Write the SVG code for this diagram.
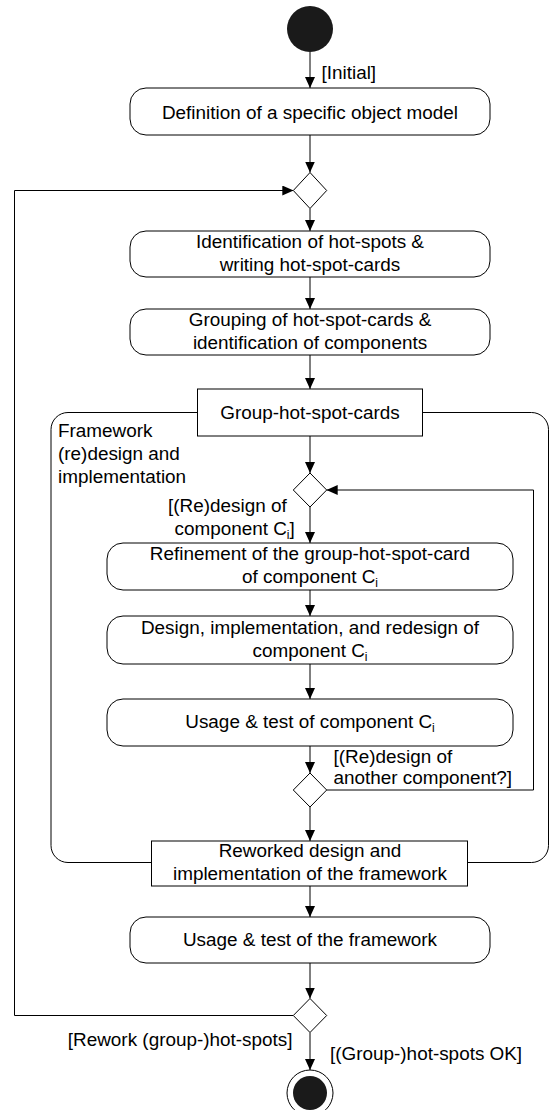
<svg xmlns="http://www.w3.org/2000/svg" width="550" height="1110" viewBox="0 0 550 1110">
<defs>
<marker id="ah" viewBox="0 0 11 10" refX="11" refY="5" markerWidth="11" markerHeight="10" markerUnits="userSpaceOnUse" orient="auto"><path d="M0,0 L11,5 L0,10 z" fill="#000"/></marker>
<style>
text{font-family:"Liberation Sans",Arial,sans-serif;font-size:18.9px;fill:#000}
.c{text-anchor:middle}
.e{text-anchor:end}
.act{fill:#fff;stroke:#000;stroke-width:1}
.box{fill:#fff;stroke:#000;stroke-width:1}
.dec{fill:#fff;stroke:#000;stroke-width:1}
.ln{fill:none;stroke:#000;stroke-width:1}
.arr{fill:none;stroke:#000;stroke-width:1;marker-end:url(#ah)}
</style>
</defs>
<rect width="550" height="1110" fill="#fff"/>
<g id="region">
<rect class="ln" x="51" y="412.5" width="497.5" height="450" rx="17"/>
<text x="58" y="437">Framework</text>
<text x="58" y="460">(re)design and</text>
<text x="58" y="483">implementation</text>
</g>
<g id="connectors">
<path class="arr" d="M310,52 V88"/>
<path class="arr" d="M310,135 V172.5"/>
<path class="arr" d="M310,208.5 V231"/>
<path class="arr" d="M310,277 V309"/>
<path class="arr" d="M310,355 V389"/>
<path class="arr" d="M310,436 V473"/>
<path class="arr" d="M310,507 V543"/>
<path class="arr" d="M310,590 V616"/>
<path class="arr" d="M310,664 V699"/>
<path class="arr" d="M310,746 V773"/>
<path class="arr" d="M326.7,790 H533.5 V490 H326.7"/>
<path class="arr" d="M310,807 V841"/>
<path class="arr" d="M310,886 V917"/>
<path class="arr" d="M310,963 V998.5"/>
<path class="arr" d="M293.3,1015.5 H14.5 V190.5 H293.3"/>
<path class="arr" d="M310,1032.5 V1070"/>
<text x="321.5" y="79">[Initial]</text>
<text x="168" y="511.5">[(Re)design of</text>
<text x="174.5" y="535">component C<tspan font-size="12" dy="4">i</tspan><tspan dy="-4">]</tspan></text>
<text x="333.5" y="762.5">[(Re)design of</text>
<text x="333.5" y="784">another component?]</text>
<text class="e" x="292.5" y="1046">[Rework (group-)hot-spots]</text>
<text x="330" y="1060">[(Group-)hot-spots OK]</text>
</g>
<g id="start"><circle cx="310" cy="29" r="23" fill="#1a1a1a"/></g>
<g id="n1"><rect class="act" x="130" y="88" width="360" height="47" rx="16"/><text class="c" x="310" y="118.8">Definition of a specific object model</text></g>
<g id="d1"><polygon class="dec" points="310,172.5 326.7,190.5 310,208.5 293.3,190.5"/></g>
<g id="n2"><rect class="act" x="130" y="231" width="360" height="46" rx="16"/><text class="c" x="310" y="248">Identification of hot-spots &amp;</text><text class="c" x="310" y="270.5">writing hot-spot-cards</text></g>
<g id="n3"><rect class="act" x="130" y="309" width="360" height="46" rx="16"/><text class="c" x="310" y="326">Grouping of hot-spot-cards &amp;</text><text class="c" x="310" y="348.5">identification of components</text></g>
<g id="n4"><rect class="box" x="197.5" y="389" width="225" height="47"/><text class="c" x="310" y="418.5">Group-hot-spot-cards</text></g>
<g id="d2"><polygon class="dec" points="310,473 326.7,490 310,507 293.3,490"/></g>
<g id="n5"><rect class="act" x="107" y="543" width="406" height="47" rx="16"/><text class="c" x="310" y="560">Refinement of the group-hot-spot-card</text><text class="c" x="310" y="583">of component C<tspan font-size="12" dy="4">i</tspan></text></g>
<g id="n6"><rect class="act" x="107" y="616" width="406" height="48" rx="16"/><text class="c" x="310" y="633.5">Design, implementation, and redesign of</text><text class="c" x="310" y="657">component C<tspan font-size="12" dy="4">i</tspan></text></g>
<g id="n7"><rect class="act" x="107" y="699" width="406" height="47" rx="16"/><text class="c" x="310" y="728">Usage &amp; test of component C<tspan font-size="12" dy="4">i</tspan></text></g>
<g id="d3"><polygon class="dec" points="310,773 326.7,790 310,807 293.3,790"/></g>
<g id="n8"><rect class="box" x="151.5" y="841" width="316" height="45"/><text class="c" x="310" y="857">Reworked design and</text><text class="c" x="310" y="879.5">implementation of the framework</text></g>
<g id="n9"><rect class="act" x="130" y="917" width="360" height="46" rx="16"/><text class="c" x="310" y="946">Usage &amp; test of the framework</text></g>
<g id="d4"><polygon class="dec" points="310,998.5 326.7,1015.5 310,1032.5 293.3,1015.5"/></g>
<g id="end"><circle cx="310" cy="1093" r="23" fill="#fff" stroke="#000" stroke-width="1"/><circle cx="310" cy="1093" r="17" fill="#1a1a1a"/></g>
</svg>
